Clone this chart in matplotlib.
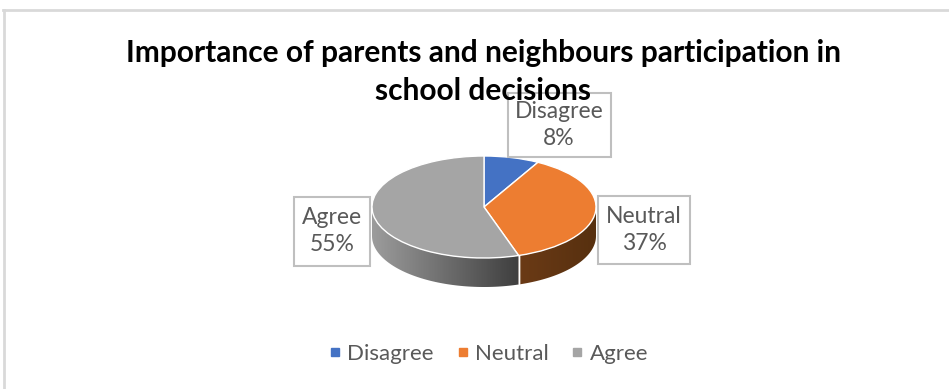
import numpy as np
import matplotlib
matplotlib.use('Agg')
import matplotlib.pyplot as plt
from matplotlib.lines import Line2D
from matplotlib.patches import Polygon, Rectangle
from matplotlib.colors import LinearSegmentedColormap

# data
labels = ['Disagree', 'Neutral', 'Agree']
shares = [8, 37, 55]
top_colors = ['#4472C4', '#ED7D31', '#A5A5A5']
side_colors = [('#2f5597', '#203864'), ('#6e3c17', '#57300f'), ('#a3a3a3', '#3f3f3f')]
title = 'Importance of parents and neighbours participation in\nschool decisions'

W, H = 949, 389
fig = plt.figure(figsize=(W / 100, H / 100), dpi=100)
plt.rcParams['font.family'] = ['Lato', 'DejaVu Sans']

# chart frame (only top and left edges are visible in the reference)
fig.add_artist(Line2D([3 / W, 1], [1 - 10 / H, 1 - 10 / H], color='#d9d9d9', lw=2))
fig.add_artist(Line2D([4 / W, 4 / W], [0, 1 - 10 / H], color='#d9d9d9', lw=2))

# pie geometry in pixels
cx, cy, a, b, depth = 484, 207, 112, 51, 29
d = depth / b
ax = fig.add_axes([(cx - a) / W, (H - (cy + b + depth)) / H, 2 * a / W, (2 * b + depth) / H])

# side walls first
fracs = np.array(shares) / sum(shares)
ends = 90 - 360 * np.cumsum(fracs)
starts = np.concatenate([[90], ends[:-1]])
for (t_start, t_end), (c1, c2) in zip(zip(starts, ends), side_colors):
    lo, hi = min(t_start, t_end), max(t_start, t_end)
    for shift in (-360, 0, 360):
        v0, v1 = max(lo + shift, 180), min(hi + shift, 360)
        if v1 <= v0:
            continue
        t = np.radians(np.linspace(v0, v1, 80))
        xs = np.cos(t)
        ys = np.sin(t)
        pts = np.vstack([np.column_stack([xs, ys]), np.column_stack([xs[::-1], ys[::-1] - d])])
        poly = Polygon(pts, closed=True, facecolor='none', edgecolor='none')
        ax.add_patch(poly)
        cmap = LinearSegmentedColormap.from_list('side', [c1, c2])
        grad = np.linspace(0, 1, 256).reshape(1, -1)
        x0, x1 = xs.min(), xs.max()
        im = ax.imshow(grad, cmap=cmap, extent=[-1, 1, -1 - d, 0.2], aspect='auto',
                       vmin=(x0 + 1) / 2 - 0.05, vmax=(x1 + 1) / 2, zorder=1)
        im.set_clip_path(poly)
        # white seam at slice boundaries on the wall
        for v in (v0, v1):
            if 180 < v < 360 and (v == lo + shift or v == hi + shift):
                ax.plot([np.cos(np.radians(v))] * 2, [np.sin(np.radians(v)), np.sin(np.radians(v)) - d],
                        color='white', lw=1, zorder=2)

wedges, _ = ax.pie(shares, colors=top_colors, startangle=90, counterclock=False,
                   radius=1, wedgeprops=dict(edgecolor='white', linewidth=1))
for w in wedges:
    w.set_zorder(3)
ax.set_aspect('auto')
ax.set_xlim(-1, 1)
ax.set_ylim(-1 - d, 1)
ax.axis('off')

# data labels (callout boxes)
label_pos = [(559, 125), (644, 230), (332, 231)]
box_size = [(103, 64), (92, 68), (76, 69)]
for lab, s, (px, py), (bw, bh) in zip(labels, shares, label_pos, box_size):
    fig.add_artist(Rectangle(((px - bw / 2) / W, 1 - (py + bh / 2) / H), bw / W, bh / H,
                             transform=fig.transFigure, facecolor='white',
                             edgecolor='#bfbfbf', lw=1.5, zorder=5))
    fig.text(px / W, 1 - py / H, f'{lab}\n{s}%', ha='center', va='center',
             fontsize=16.5, color='#595959', linespacing=1.3, zorder=6)

fig.text(483 / W, 1 - 72 / H, title, ha='center', va='center', fontsize=21.5,
         fontweight='bold', color='black', linespacing=1.42, zorder=7)

handles = [Line2D([], [], marker='s', color=c, linestyle='none', markersize=5.5) for c in top_colors]
fig.legend(handles, labels, loc='center', bbox_to_anchor=(486 / W, 1 - 354 / H), ncol=3,
           frameon=False, fontsize=16, labelcolor='#595959', handletextpad=0.05,
           columnspacing=0.8, handlelength=1)

fig.savefig('out.png', dpi=100)
